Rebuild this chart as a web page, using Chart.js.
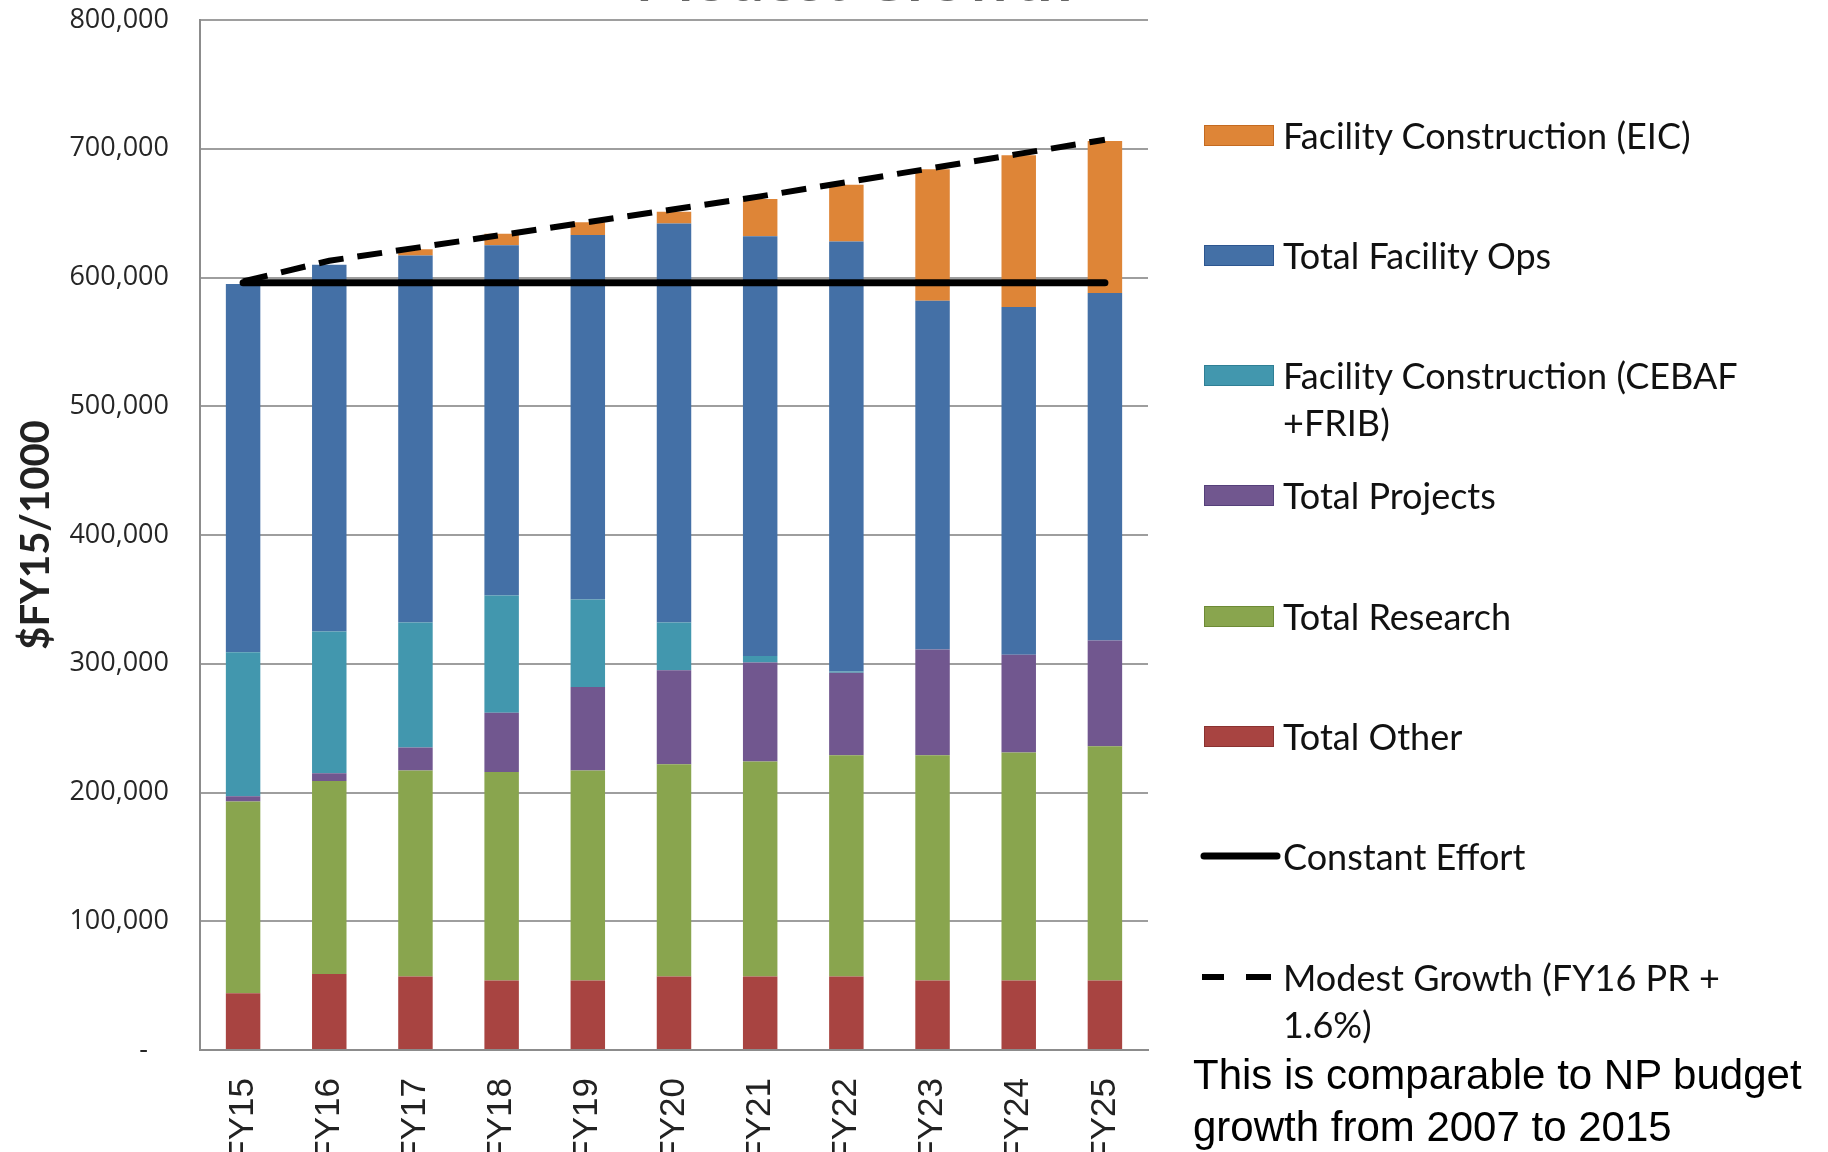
<!DOCTYPE html>
<html>
<head>
<meta charset="utf-8">
<script src="https://cdn.jsdelivr.net/npm/chart.js@4.4.0/dist/chart.umd.min.js"></script>
<style>
  body { margin: 0; background: #fff; }
  #wrap { position: relative; width: 1828px; height: 1152px; overflow: hidden; }
  #chart { position: absolute; left: 0; top: 0; }
  .item { position: absolute; left: 1200px; font-family: Lato, sans-serif; font-size: 36px; line-height: 47px; color: #111; }
  .item .txt { position: absolute; left: 83px; top: 0; white-space: nowrap; }
  .sw { position: absolute; left: 4px; width: 70px; height: 21px; top: 13px; box-sizing: border-box; }
  .note { position: absolute; left: 1193px; top: 1049px; font-family: "Liberation Sans", Arial, sans-serif; font-size: 42px; line-height: 52px; color: #000; white-space: nowrap; }
</style>
</head>
<body>
<div id="wrap">
  <canvas id="chart" width="1828" height="1152"></canvas>
  <div id="legend"></div>
  <div class="note">This is comparable to NP budget<br>growth from 2007 to 2015</div>
</div>
<script>
const categories = ['FY15', 'FY16', 'FY17', 'FY18', 'FY19', 'FY20', 'FY21', 'FY22', 'FY23', 'FY24', 'FY25'];

const totalOther    = [44000, 59000, 57000, 54000, 54000, 57000, 57000, 57000, 54000, 54000, 54000];
const totalResearch = [149000, 150000, 160000, 162000, 163000, 165000, 167000, 172000, 175000, 177000, 182000];
const totalProjects = [4000, 6000, 18000, 46000, 65000, 73000, 77000, 64000, 82000, 76000, 82000];
const constrCebaf   = [112000, 110000, 97000, 91000, 68000, 37000, 5000, 1000, 0, 0, 0];
const facilityOps   = [286000, 285000, 285000, 272000, 283000, 310000, 326000, 334000, 271000, 270000, 270000];
const constrEic     = [0, 0, 5000, 9000, 10000, 9000, 29000, 44000, 102000, 118000, 118000];

const constantEffort = [596000, 596000, 596000, 596000, 596000, 596000, 596000, 596000, 596000, 596000, 596000];
const modestGrowth   = [597000, 613000, 623000, 633000, 643000, 653000, 663000, 674000, 685000, 696000, 707000];

const yTicks = [0, 100000, 200000, 300000, 400000, 500000, 600000, 700000, 800000];

const barSeries = [
  { label: 'Total Other', data: totalOther, color: '#A84441', edge: '#8a3230' },
  { label: 'Total Research', data: totalResearch, color: '#89A54E', edge: '#6d8a35' },
  { label: 'Total Projects', data: totalProjects, color: '#71578F', edge: '#55407a' },
  { label: 'Facility Construction (CEBAF\n+FRIB)', data: constrCebaf, color: '#4297AE', edge: '#2f7f95' },
  { label: 'Total Facility Ops', data: facilityOps, color: '#4470A6', edge: '#2d5690' },
  { label: 'Facility Construction (EIC)', data: constrEic, color: '#DE8537', edge: '#c46a20' }
];

const datasets = [
  { type: 'line', label: 'Constant Effort', data: constantEffort, borderColor: '#000', borderWidth: 7,
    borderCapStyle: 'round', pointRadius: 0, fill: false, stack: 'ce', order: 0 },
  { type: 'line', label: 'Modest Growth (FY16 PR +\n1.6%)', data: modestGrowth, borderColor: '#000', borderWidth: 6,
    borderDash: [25, 14], pointRadius: 0, fill: false, stack: 'mg', order: 0 }
];
barSeries.forEach(s => {
  datasets.push({ type: 'bar', label: s.label, data: s.data, backgroundColor: s.color,
    borderWidth: 0, stack: 'bars', order: 1, barPercentage: 0.4, categoryPercentage: 1.0 });
});

// chart title, mostly cut off by the top edge
const topTitle = {
  id: 'topTitle',
  afterDraw(chart) {
    const c = chart.ctx;
    c.save();
    c.font = 'bold 62px Lato';
    c.fillStyle = '#666';
    c.textAlign = 'center';
    c.textBaseline = 'alphabetic';
    c.fillText('Modest Growth', 854, 1);
    c.restore();
  }
};

const ctx = document.getElementById('chart').getContext('2d');
const chart = new Chart(ctx, {
  data: { labels: categories, datasets: datasets },
  options: {
    responsive: false,
    animation: false,
    layout: { padding: { left: 0, right: 680, top: 20, bottom: 0 } },
    plugins: { legend: { display: false }, tooltip: { enabled: false } },
    scales: {
      x: {
        stacked: true,
        grid: { display: false, drawTicks: false },
        border: { display: true, color: '#8c8c8c', width: 2 },
        ticks: { minRotation: 90, maxRotation: 90, autoSkip: false, padding: 28,
          color: '#222', font: { family: 'Liberation Sans', size: 35 } },
        afterFit: s => { s.height = 102; s.paddingLeft = 0; s.paddingRight = 0; }
      },
      y: {
        stacked: true,
        min: 0,
        max: 800000,
        afterBuildTicks: s => { s.ticks = yTicks.map(v => ({ value: v })); },
        ticks: {
          padding: 31,
          color: '#262626',
          font: { family: 'Open Sans', size: 27 },
          callback: v => v === 0 ? '-   ' : v.toLocaleString('en-US')
        },
        grid: { color: '#9e9e9e', lineWidth: 2, drawTicks: false },
        border: { display: true, color: '#8c8c8c', width: 2 },
        title: { display: true, text: '$FY15/1000', color: '#222',
          font: { family: 'Lato', size: 40, weight: 'bold' }, padding: { top: 12, bottom: 0 } },
        afterFit: s => { s.width = 200; s.paddingTop = 0; s.paddingBottom = 0; }
      }
    }
  },
  plugins: [topTitle]
});

// legend on the right, top to bottom
const legendOrder = [
  barSeries[5], barSeries[4], barSeries[3], barSeries[2], barSeries[1], barSeries[0],
  { label: 'Constant Effort', line: 'solid' },
  { label: 'Modest Growth (FY16 PR +\n1.6%)', line: 'dash' }
];
const legend = document.getElementById('legend');
legendOrder.forEach((it, i) => {
  const div = document.createElement('div');
  div.className = 'item';
  div.style.top = (135 + i * 120.3 - 23.5) + 'px';
  let mark = '';
  if (it.line === 'solid') {
    mark = '<svg style="position:absolute;left:0;top:13px" width="82" height="20"><line x1="4" y1="10" x2="77" y2="10" stroke="#000" stroke-width="7" stroke-linecap="round"/></svg>';
  } else if (it.line === 'dash') {
    mark = '<svg style="position:absolute;left:0;top:13px" width="82" height="20"><line x1="2" y1="10" x2="24" y2="10" stroke="#000" stroke-width="6"/><line x1="46" y1="10" x2="71" y2="10" stroke="#000" stroke-width="6"/></svg>';
  } else {
    mark = '<div class="sw" style="background:' + it.color + ';border:1.5px solid ' + it.edge + '"></div>';
  }
  div.innerHTML = mark + '<div class="txt">' + it.label.replace('\n', '<br>') + '</div>';
  legend.appendChild(div);
});
</script>
</body>
</html>
